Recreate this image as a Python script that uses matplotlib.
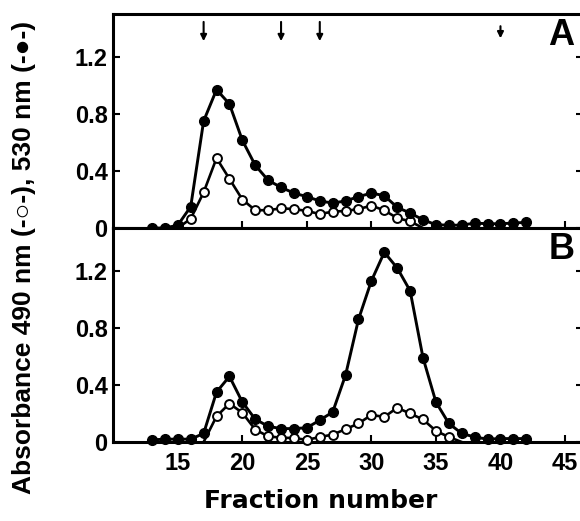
import numpy as np
import matplotlib.pyplot as plt

plt.rcParams['font.family'] = ['Liberation Sans', 'DejaVu Sans']
plt.rcParams['font.weight'] = 'bold'

# fractions for the 530 nm (filled) series, both panels
frac = np.arange(13, 43)

# panel A, 530 nm (filled circles)
a_530 = [0.0, 0.0, 0.02, 0.15, 0.75, 0.97, 0.87, 0.615, 0.44, 0.335,
         0.285, 0.245, 0.22, 0.19, 0.175, 0.19, 0.22, 0.245, 0.227, 0.145,
         0.105, 0.058, 0.023, 0.02, 0.02, 0.035, 0.03, 0.03, 0.035, 0.04]
# panel A, 490 nm (open circles); first and last points are line ends only
a_490_frac = np.arange(15, 35)
a_490 = [0.0, 0.065, 0.25, 0.49, 0.345, 0.2, 0.125, 0.125, 0.138, 0.133,
         0.12, 0.098, 0.115, 0.12, 0.133, 0.157, 0.124, 0.07, 0.047, 0.0]

# panel B, 530 nm
b_530 = [0.015, 0.02, 0.02, 0.02, 0.06, 0.35, 0.46, 0.28, 0.16, 0.11,
         0.094, 0.094, 0.10, 0.153, 0.21, 0.47, 0.86, 1.13, 1.33, 1.22,
         1.06, 0.59, 0.28, 0.13, 0.06, 0.035, 0.02, 0.024, 0.024, 0.024]
# panel B, 490 nm
b_490_frac = np.arange(17, 38)
b_490 = [0.0, 0.18, 0.27, 0.205, 0.087, 0.04, 0.03, 0.028, 0.015, 0.035,
         0.052, 0.09, 0.13, 0.19, 0.176, 0.24, 0.2, 0.158, 0.078, 0.035, 0.0]

# arrows in panel A
arrow_x = [17, 23, 26, 40]
arrow_top = [1.445, 1.445, 1.445, 1.415]
arrow_tip = [1.31, 1.31, 1.31, 1.33]

xticks = [15, 20, 25, 30, 35, 40, 45]
yticks = [0, 0.4, 0.8, 1.2]
yticklabels = ['0', '0.4', '0.8', '1.2']

fig = plt.figure(figsize=(5.8, 5.21), dpi=100)
axA = fig.add_axes([0.1953, 0.5623, 0.81, 0.4107])
axB = fig.add_axes([0.1953, 0.1516, 0.81, 0.4107])

panels = [(axA, a_530, a_490_frac, a_490, 'A'),
          (axB, b_530, b_490_frac, b_490, 'B')]

for ax, filled, ofrac, opn, lab in panels:
    ax.plot(ofrac, opn, '-o', color='black', lw=1.9, ms=6.4,
            mfc='white', mec='black', mew=1.4, markevery=slice(1, -1),
            clip_on=False, zorder=3)
    ax.plot(frac, filled, '-o', color='black', lw=2.1, ms=7,
            clip_on=False, zorder=4)
    ax.set_xlim(10, 46.4)
    ax.set_ylim(0, 1.5)
    ax.set_xticks(xticks)
    ax.set_yticks(yticks)
    ax.set_yticklabels(yticklabels)
    ax.tick_params(direction='in', length=5, width=1.5, labelsize=17, pad=4)
    ax.tick_params(axis='y', right=True)
    ax.tick_params(axis='x', pad=7)
    for s in ax.spines.values():
        s.set_linewidth(2.2)
    ax.spines['right'].set_visible(False)
    ax.text(44.7, 1.35, lab, fontsize=26, fontweight='bold',
            ha='center', va='center')

axA.tick_params(axis='x', labelbottom=False)

for x, y0, y1 in zip(arrow_x, arrow_top, arrow_tip):
    axA.annotate('', xy=(x, y1), xytext=(x, y0),
                 arrowprops=dict(arrowstyle='-|>', color='black', lw=1.5,
                                 mutation_scale=9, shrinkA=0, shrinkB=0))

fig.text(24 / 580, 0.506, 'Absorbance 490 nm (-○-), 530 nm (-●-)',
         rotation=90, ha='center', va='center', fontsize=19,
         fontweight='bold')
fig.text(321 / 580, 1 - 501 / 521, 'Fraction number', ha='center',
         va='center', fontsize=18, fontweight='bold',
         family='DejaVu Sans')

fig.savefig('out.png', dpi=100)
